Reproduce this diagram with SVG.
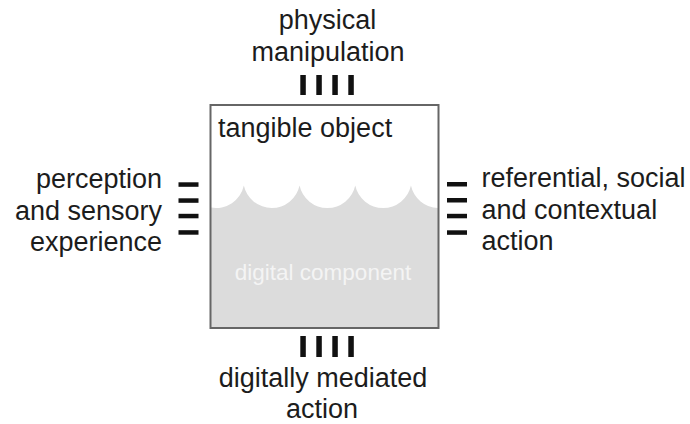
<svg xmlns="http://www.w3.org/2000/svg" width="690" height="424" viewBox="0 0 690 424">
  <style>
    .lbl { font-family: "Liberation Sans", Arial, sans-serif; font-size: 27px; fill: #1c1c1c; }
    .mid { text-anchor: middle; }
    .end { text-anchor: end; }
    .inner { font-family: "Liberation Sans", Arial, sans-serif; font-size: 22.5px; fill: #f4f4f4; text-anchor: middle; }
    .bar { fill: #111; }
  </style>
  <rect width="690" height="424" fill="#ffffff"/>

  <!-- central object with its digital part -->
  <g id="object">
    <rect x="210.5" y="105" width="228" height="223" fill="#ffffff"/>
    <path d="M 211 207.6 A 28.5 28.5 0 0 0 243.85 185.5 A 28.5 28.5 0 0 0 299.55 185.5 A 28.5 28.5 0 0 0 355.25 185.5 A 28.5 28.5 0 0 0 410.95 185.5 A 28.5 28.5 0 0 0 438 208 L 438 328 L 211 328 Z" fill="#dcdcdc"/>
    <rect x="210.5" y="105" width="228" height="223" fill="none" stroke="#666666" stroke-width="2"/>
    <text class="lbl" x="218" y="137">tangible object</text>
    <text class="inner" x="323" y="280">digital component</text>
  </g>

  <!-- interface markers on each side -->
  <g id="connectors">
    <rect class="bar" x="300.3" y="75" width="5.5" height="20"/>
    <rect class="bar" x="316.3" y="75" width="5.5" height="20"/>
    <rect class="bar" x="332.3" y="75" width="5.5" height="20"/>
    <rect class="bar" x="348.3" y="75" width="5.5" height="20"/>

    <rect class="bar" x="300.3" y="336" width="5.5" height="21"/>
    <rect class="bar" x="316.3" y="336" width="5.5" height="21"/>
    <rect class="bar" x="332.3" y="336" width="5.5" height="21"/>
    <rect class="bar" x="348.3" y="336" width="5.5" height="21"/>

    <rect class="bar" x="178.5" y="182.3" width="20" height="4.5"/>
    <rect class="bar" x="178.5" y="198.3" width="20" height="4.5"/>
    <rect class="bar" x="178.5" y="213.8" width="20" height="4.5"/>
    <rect class="bar" x="178.5" y="230.2" width="20" height="4.5"/>

    <rect class="bar" x="447" y="182" width="20" height="4.5"/>
    <rect class="bar" x="447" y="198" width="20" height="4.5"/>
    <rect class="bar" x="447" y="213.8" width="20" height="4.5"/>
    <rect class="bar" x="447" y="230.3" width="20" height="4.5"/>
  </g>

  <g id="top-label">
    <text class="lbl mid" x="327.5" y="29">physical</text>
    <text class="lbl mid" x="328" y="61">manipulation</text>
  </g>

  <g id="left-label">
    <text class="lbl end" x="162" y="188">perception</text>
    <text class="lbl end" x="162" y="220">and sensory</text>
    <text class="lbl end" x="162" y="251">experience</text>
  </g>

  <g id="right-label">
    <text class="lbl" x="481.5" y="187">referential, social</text>
    <text class="lbl" x="481.5" y="219">and contextual</text>
    <text class="lbl" x="481.5" y="250">action</text>
  </g>

  <g id="bottom-label">
    <text class="lbl mid" x="323" y="387">digitally mediated</text>
    <text class="lbl mid" x="322" y="418">action</text>
  </g>
</svg>
